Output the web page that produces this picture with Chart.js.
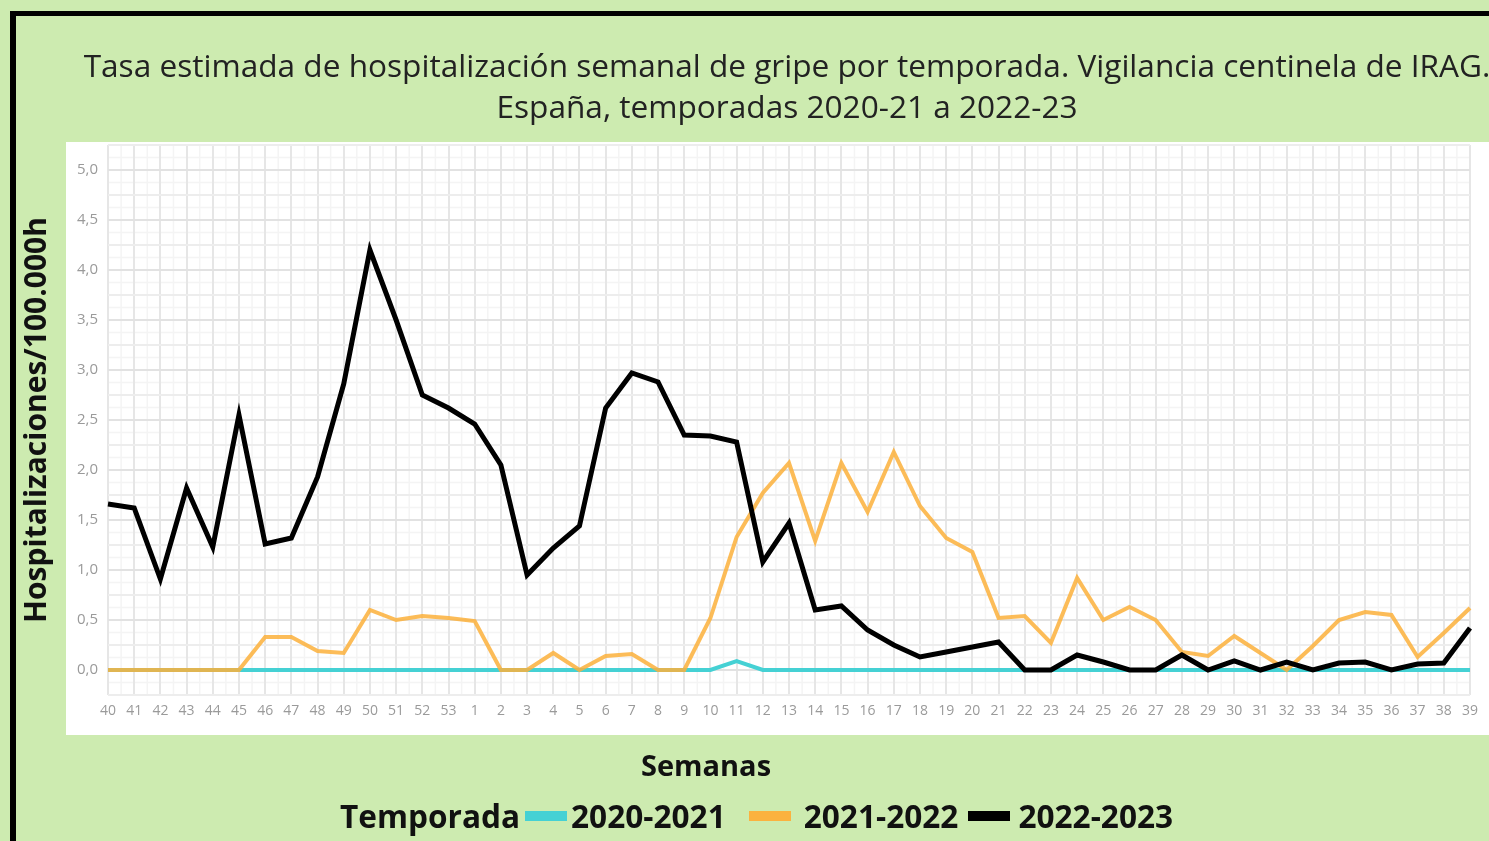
<!DOCTYPE html>
<html lang="es">
<head>
<meta charset="utf-8">
<title>Tasa estimada de hospitalización semanal de gripe</title>
<script src="https://cdn.jsdelivr.net/npm/chart.js@4.4.1/dist/chart.umd.min.js"></script>
<style>
  html, body { margin: 0; padding: 0; }
  body {
    width: 1489px; height: 841px; overflow: hidden; position: relative;
    background: #cdebb0; font-family: 'Open Sans', 'Noto Sans', sans-serif;
  }
  .frame {
    position: absolute; left: 10px; top: 11px; width: 1600px; height: 900px;
    border-top: 5px solid #000; border-left: 6px solid #000;
  }
  #chart { position: absolute; left: 0; top: 0; }
  .title {
    position: absolute; left: 0; top: 44px; width: 1574px;
    text-align: center; font-size: 31.6px; line-height: 41px; color: #222;
    white-space: nowrap;
  }
  .xtitle {
    position: absolute; left: 606px; top: 750px; width: 200px; text-align: center;
    font-size: 29px; line-height: 30px; font-weight: 700; color: #111;
  }
  .legend {
    position: absolute; left: 340px; top: 800px; height: 32px;
    display: flex; align-items: center;
    font-size: 31.6px; line-height: 32px; font-weight: 700; color: #111; white-space: nowrap;
  }
  .legend .sw { display: inline-block; width: 42px; height: 10px; }
</style>
</head>
<body>
<div class="frame"></div>
<canvas id="chart" width="1489" height="841"></canvas>
<div class="title">Tasa estimada de hospitalización semanal de gripe por temporada. Vigilancia centinela de IRAG.<br>España, temporadas 2020-21 a 2022-23</div>
<div class="xtitle">Semanas</div>
<div class="legend" id="legend"></div>

<script>
// weeks of the season (40 -> 53, then 1 -> 39)
const WEEKS = ['40','41','42','43','44','45','46','47','48','49','50','51','52','53',
  '1','2','3','4','5','6','7','8','9','10','11','12','13','14','15','16','17','18','19','20',
  '21','22','23','24','25','26','27','28','29','30','31','32','33','34','35','36','37','38','39'];

const SEASONS = ['2020-2021', '2021-2022', '2022-2023'];

// hospitalisations / 100.000 h
const RATE_2020_21 = [0,0,0,0,0,0,0,0,0,0,0,0,0,0,
  0,0,0,0,0,0,0,0,0,0,0.09,0,0,0,0,0,0,0,0,0,
  0,0,0,0,0,0,0,0,0,0,0,0,0,0,0,0,0,0,0];

const RATE_2021_22 = [0,0,0,0,0,0,0.33,0.33,0.19,0.17,0.60,0.50,0.54,0.52,
  0.49,0,0,0.17,0,0.14,0.16,0,0,0.52,1.33,1.77,2.07,1.29,2.07,1.58,2.18,1.64,1.32,1.18,
  0.52,0.54,0.27,0.92,0.50,0.63,0.50,0.18,0.14,0.34,0.17,0,0.24,0.50,0.58,0.55,0.13,0.37,0.62];

const RATE_2022_23 = [1.66,1.62,0.91,1.82,1.23,2.55,1.26,1.32,1.93,2.86,4.20,3.50,2.75,2.62,
  2.46,2.05,0.95,1.22,1.44,2.62,2.97,2.88,2.35,2.34,2.28,1.08,1.47,0.60,0.64,0.40,0.25,0.13,0.18,0.23,
  0.28,0,0,0.15,0.08,0,0,0.15,0,0.09,0,0.08,0,0.07,0.08,0,0.06,0.07,0.42];

const COLORS = ['#45d1d4', '#fbb23f', '#000000'];

// legend (HTML, sits under "Semanas")
const legendEl = document.getElementById('legend');
const gaps = [[5, 4], [23, 13], [10, 8]];
legendEl.innerHTML = '<span>Temporada</span>' + SEASONS.map((s, i) =>
  `<span class="sw" style="background:${COLORS[i]};margin-left:${gaps[i][0]}px;margin-right:${gaps[i][1]}px"></span><span>${s}</span>`
).join('');

// white panel + faint sub-grid behind everything
const backdrop = {
  id: 'backdrop',
  beforeDraw(chart) {
    const { ctx, chartArea: a, scales: { x, y } } = chart;
    ctx.save();
    ctx.fillStyle = '#ffffff';
    ctx.fillRect(a.left - 42, a.top - 3, chart.width, x.bottom - a.top + 3);

    ctx.strokeStyle = '#f4f4f4';
    ctx.lineWidth = 1.5;
    ctx.beginPath();
    for (let i = 0; i < WEEKS.length - 1; i++) {
      const px = (x.getPixelForValue(i) + x.getPixelForValue(i + 1)) / 2;
      ctx.moveTo(px, a.top); ctx.lineTo(px, a.bottom);
    }
    for (let v = y.min + 0.125; v < y.max; v += 0.25) {
      const py = y.getPixelForValue(v);
      ctx.moveTo(a.left, py); ctx.lineTo(a.right, py);
    }
    ctx.stroke();
    ctx.restore();
  }
};

const series = [RATE_2020_21, RATE_2021_22, RATE_2022_23];
const lineColors = ['#45d1d4', 'rgba(251,176,59,0.85)', '#000000'];
const widths = [4, 4, 5];

new Chart(document.getElementById('chart'), {
  type: 'line',
  data: {
    labels: WEEKS,
    datasets: SEASONS.map((s, i) => ({
      label: s,
      data: series[i],
      borderColor: lineColors[i],
      backgroundColor: lineColors[i],
      borderWidth: widths[i],
      pointRadius: 0,
      tension: 0,
      fill: false,
      order: 2 - i,   // 2022-2023 on top
    })),
  },
  options: {
    responsive: false,
    animation: false,
    events: [],
    layout: { padding: { left: 15, right: 19, top: 145, bottom: 106 } },
    plugins: {
      legend: { display: false },
      title: { display: false },
      tooltip: { enabled: false },
    },
    scales: {
      x: {
        type: 'category',
        offset: false,
        afterFit: s => { s.height = 40; },
        border: { display: false },
        grid: { color: '#e6e6e6', lineWidth: 2, drawTicks: false, offset: false },
        ticks: {
          autoSkip: false, maxRotation: 0, padding: 8,
          color: '#9a9a9a', font: { family: 'Open Sans', size: 14 },
        },
      },
      y: {
        min: -0.25, max: 5.25,
        afterFit: s => { s.width = 93; },
        border: { display: false },
        grid: {
          drawTicks: false, lineWidth: 2,
          color: c => (Math.round(c.tick.value * 4) % 2 === 0 ? '#e2e2e2' : '#ededed'),
        },
        ticks: {
          stepSize: 0.25, padding: 10,
          color: '#9a9a9a', font: { family: 'Open Sans', size: 15 },
          callback: v => {
            const q = Math.round(v * 4);
            if (q < 0 || q % 2 !== 0) return '';
            return (q / 4).toFixed(1).replace('.', ',');
          },
        },
        title: {
          display: true, text: 'Hospitalizaciones/100.000h', color: '#111',
          padding: { top: 4, bottom: 0 },
          font: { family: 'Open Sans', size: 30, weight: 'bold' },
        },
      },
    },
  },
  plugins: [backdrop],
});
</script>
</body>
</html>
